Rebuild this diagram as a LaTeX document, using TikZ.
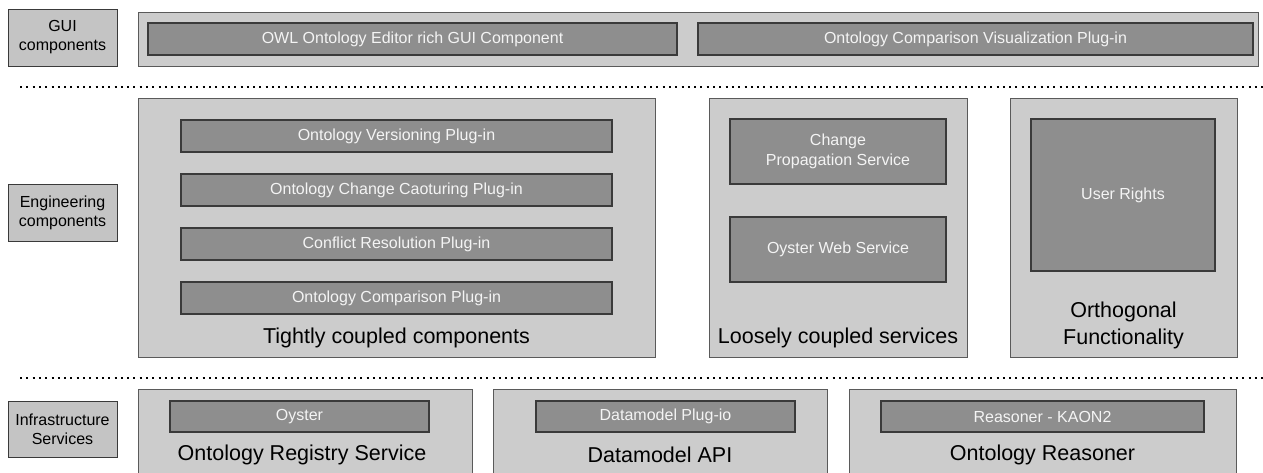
\documentclass[tikz,border=0pt]{standalone}
\usepackage{fontspec}
\setmainfont{Liberation Sans}
\definecolor{outerfill}{HTML}{CCCCCC}
\definecolor{innerfill}{HTML}{8E8E8E}
\definecolor{labelfill}{HTML}{C4C4C4}
\definecolor{edgecol}{HTML}{3A3A3A}
\definecolor{contedge}{HTML}{5A5A5A}
\definecolor{innertext}{HTML}{F4F4F4}
\newcommand\bx[7]{\node[#2, minimum width={(#5-#3)*1pt}, minimum height={(#6-#4)*1pt}] (#1) at ({(#3+#5)/2},{(#4+#6)/2}) {#7};}
\tikzset{
  lab/.style={draw=edgecol, fill=labelfill, line width=1pt, align=center, inner sep=0pt, font=\fontsize{16}{19}\selectfont},
  cont/.style={draw=contedge, fill=outerfill, line width=1pt, inner sep=0pt},
  innerbox/.style={draw=edgecol, fill=innerfill, line width=1.2pt, inner sep=0pt, text=innertext, align=center, font=\fontsize{16}{20}\selectfont},
  smallinner/.style={innerbox},
  big/.style={align=center, inner sep=0pt, font=\fontsize{21.5}{27}\selectfont},
  sepline/.style={line width=2pt, dash pattern=on 2pt off 4.3pt}
}
\begin{document}
\begin{tikzpicture}[x=1pt, y=-1pt]
\useasboundingbox (0,0) rectangle (1263,472);
\clip (0,0) rectangle (1263,472);
% GUI layer
\bx{guilab}{lab}{8}{9}{117}{66}{GUI\\components}
\bx{guicont}{cont}{138}{12}{1258}{66}{}
\bx{owl}{innerbox}{148}{23}{677}{55}{OWL Ontology Editor rich GUI Component}
\bx{ocv}{innerbox}{698}{23}{1253}{55}{Ontology Comparison Visualization Plug-in}
% separator 1
\coordinate (s1a) at (20,87);
\coordinate (s1b) at (1263,87);
\draw[sepline] (s1a) -- (s1b);
% Engineering layer
\bx{englab}{lab}{8}{184}{117}{241}{Engineering\\components}
\bx{tight}{cont}{138}{98}{655}{357}{}
\bx{ver}{innerbox}{181}{120}{612}{152}{Ontology Versioning Plug-in}
\bx{cap}{innerbox}{181}{174}{612}{206}{Ontology Change Caoturing Plug-in}
\bx{conf}{innerbox}{181}{228}{612}{260}{Conflict Resolution Plug-in}
\bx{comp}{innerbox}{181}{282}{612}{314}{Ontology Comparison Plug-in}
\node[big] (tighttxt) at (396.5,338) {Tightly coupled components};
\bx{loose}{cont}{709}{98}{967}{357}{}
\bx{prop}{innerbox}{730}{119}{946}{184}{Change\\Propagation Service}
\bx{ows}{innerbox}{730}{217}{946}{282}{Oyster Web Service}
\node[big] (loosetxt) at (838,338) {Loosely coupled services};
\bx{orth}{cont}{1010}{98}{1237}{357}{}
\bx{rights}{innerbox}{1031}{119}{1215}{271}{User Rights}
\node[big] (orthtxt) at (1123.5,325) {Orthogonal\\Functionality};
% separator 2
\coordinate (s2a) at (20,378);
\coordinate (s2b) at (1263,378);
\draw[sepline] (s2a) -- (s2b);
% Infrastructure layer
\bx{inflab}{lab}{8}{401}{117}{457}{Infrastructure\\Services}
\bx{reg}{cont}{138}{389}{472}{490}{}
\bx{oyster}{smallinner}{170}{401}{429}{432}{Oyster}
\node[big] (regtxt) at (302,455) {Ontology Registry Service};
\bx{dm}{cont}{493}{389}{827}{490}{}
\bx{dmp}{smallinner}{536}{401}{795}{432}{Datamodel Plug-io}
\node[big] (dmtxt) at (660,455) {Datamodel API};
\bx{rs}{cont}{849}{389}{1236}{490}{}
\bx{kaon}{smallinner}{881}{401}{1204}{432}{Reasoner - KAON2}
\node[big] (rstxt) at (1042.5,455) {Ontology Reasoner};
\end{tikzpicture}
\end{document}
